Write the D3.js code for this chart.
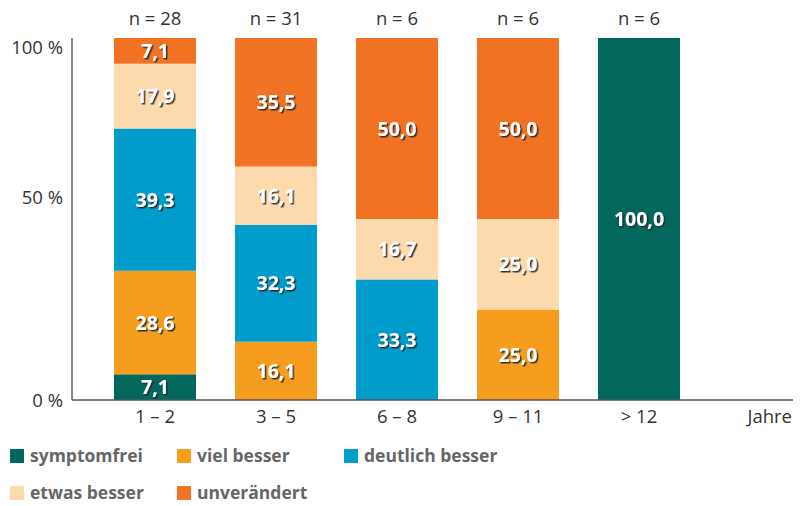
<!DOCTYPE html>
<html>
<head>
<meta charset="utf-8">
<script src="https://cdn.jsdelivr.net/npm/d3@7"></script>
<style>
  body { margin: 0; background: #fff; }
  svg { font-family: "Open Sans", "Noto Sans", sans-serif; }
</style>
</head>
<body>
<svg id="chart" width="805" height="506"></svg>
<script>
// categories (Jahre)
var categories = ["1 – 2", "3 – 5", "6 – 8", "9 – 11", "> 12"];
var counts = ["n = 28", "n = 31", "n = 6", "n = 6", "n = 6"];
var seriesNames = ["symptomfrei", "viel besser", "deutlich besser", "etwas besser", "unverändert"];
// percent per category, bottom to top
var symptomfrei    = [7.1, 0, 0, 0, 100.0];
var vielBesser     = [28.6, 16.1, 0, 25.0, 0];
var deutlichBesser = [39.3, 32.3, 33.3, 0, 0];
var etwasBesser    = [17.9, 16.1, 16.7, 25.0, 0];
var unveraendert   = [7.1, 35.5, 50.0, 50.0, 0];
var yTicks = [0, 50, 100];

var colors = ["#02675d", "#f69d1f", "#009ccb", "#fdd9ae", "#f27224"];

var svg = d3.select("#chart");

var rows = categories.map(function(c, i) {
    return {
        cat: c,
        "symptomfrei": symptomfrei[i],
        "viel besser": vielBesser[i],
        "deutlich besser": deutlichBesser[i],
        "etwas besser": etwasBesser[i],
        "unverändert": unveraendert[i]
    };
});

var x = d3.scaleBand()
    .domain(categories)
    .range([94.5, 699.5])
    .paddingInner(0.322)
    .paddingOuter(0.161);

var y = d3.scaleLinear().domain([0, 100]).range([400, 38]);

var color = d3.scaleOrdinal().domain(seriesNames).range(colors);

var stack = d3.stack().keys(seriesNames);
var series = stack(rows);

// shadow for the value labels
var defs = svg.append("defs");
var f = defs.append("filter").attr("id", "shadow")
    .attr("x", "-20%").attr("y", "-20%").attr("width", "140%").attr("height", "140%");
f.append("feDropShadow")
    .attr("dx", 1.5).attr("dy", 1.5).attr("stdDeviation", 0.6)
    .attr("flood-color", "#222").attr("flood-opacity", 0.9);

// bars
var layer = svg.append("g").selectAll("g")
    .data(series)
    .enter().append("g")
    .attr("fill", function(d) { return color(d.key); });

layer.selectAll("rect")
    .data(function(d) { return d; })
    .enter().append("rect")
    .attr("x", function(d) { return x(d.data.cat); })
    .attr("y", function(d) { return y(d[1]); })
    .attr("width", x.bandwidth())
    .attr("height", function(d) { return y(d[0]) - y(d[1]); });

// value labels
var fmt = function(v) { return d3.format(".1f")(v).replace(".", ","); };
layer.selectAll("text")
    .data(function(d) { return d.filter(function(p) { return p[1] - p[0] > 0; }); })
    .enter().append("text")
    .attr("x", function(d) { return x(d.data.cat) + x.bandwidth() / 2; })
    .attr("y", function(d) { return (y(d[0]) + y(d[1])) / 2; })
    .attr("dy", "0.36em")
    .attr("text-anchor", "middle")
    .attr("fill", "#fff")
    .attr("font-weight", "bold")
    .attr("font-size", 19.5)
    .attr("filter", "url(#shadow)")
    .text(function(d) { return fmt(d[1] - d[0]); });

// n labels
svg.append("g").selectAll("text")
    .data(categories)
    .enter().append("text")
    .attr("x", function(d) { return x(d) + x.bandwidth() / 2; })
    .attr("y", 18)
    .attr("dy", "0.36em")
    .attr("text-anchor", "middle")
    .attr("fill", "#333")
    .attr("font-size", 18.5)
    .text(function(d, i) { return counts[i]; });

// y axis
svg.append("line")
    .attr("x1", 72).attr("x2", 72)
    .attr("y1", y(100)).attr("y2", y(0))
    .attr("stroke", "#444").attr("stroke-width", 1.3);

var tickNudge = { 0: 0, 50: -22, 100: 9 };
svg.append("g").selectAll("text")
    .data(yTicks)
    .enter().append("text")
    .attr("x", 63)
    .attr("y", function(d) { return y(d) + tickNudge[d]; })
    .attr("dy", "0.36em")
    .attr("text-anchor", "end")
    .attr("fill", "#333")
    .attr("font-size", 18.5)
    .text(function(d) { return d + " %"; });

// x axis
svg.append("line")
    .attr("x1", 72).attr("x2", 793)
    .attr("y1", y(0)).attr("y2", y(0))
    .attr("stroke", "#555").attr("stroke-width", 1.3);

svg.append("g").selectAll("text")
    .data(categories)
    .enter().append("text")
    .attr("x", function(d) { return x(d) + x.bandwidth() / 2; })
    .attr("y", 416)
    .attr("dy", "0.36em")
    .attr("text-anchor", "middle")
    .attr("fill", "#333")
    .attr("font-size", 18.5)
    .text(function(d) { return d; });

svg.append("text")
    .attr("x", 792).attr("y", 416).attr("dy", "0.36em")
    .attr("text-anchor", "end")
    .attr("fill", "#333")
    .attr("font-size", 18.5)
    .text("Jahre");

// legend
var legendPos = [[10, 456], [177, 456], [344, 456], [10, 493], [177, 493]];
var legend = svg.append("g").selectAll("g")
    .data(seriesNames)
    .enter().append("g")
    .attr("transform", function(d, i) { return "translate(" + legendPos[i][0] + "," + legendPos[i][1] + ")"; });

legend.append("rect")
    .attr("x", 0).attr("y", -7)
    .attr("width", 14).attr("height", 14)
    .attr("fill", function(d) { return color(d); });

legend.append("text")
    .attr("x", 20).attr("y", 0).attr("dy", "0.36em")
    .attr("fill", "#666")
    .attr("font-weight", "bold")
    .attr("font-size", 17.5)
    .text(function(d) { return d; });
</script>
</body>
</html>
